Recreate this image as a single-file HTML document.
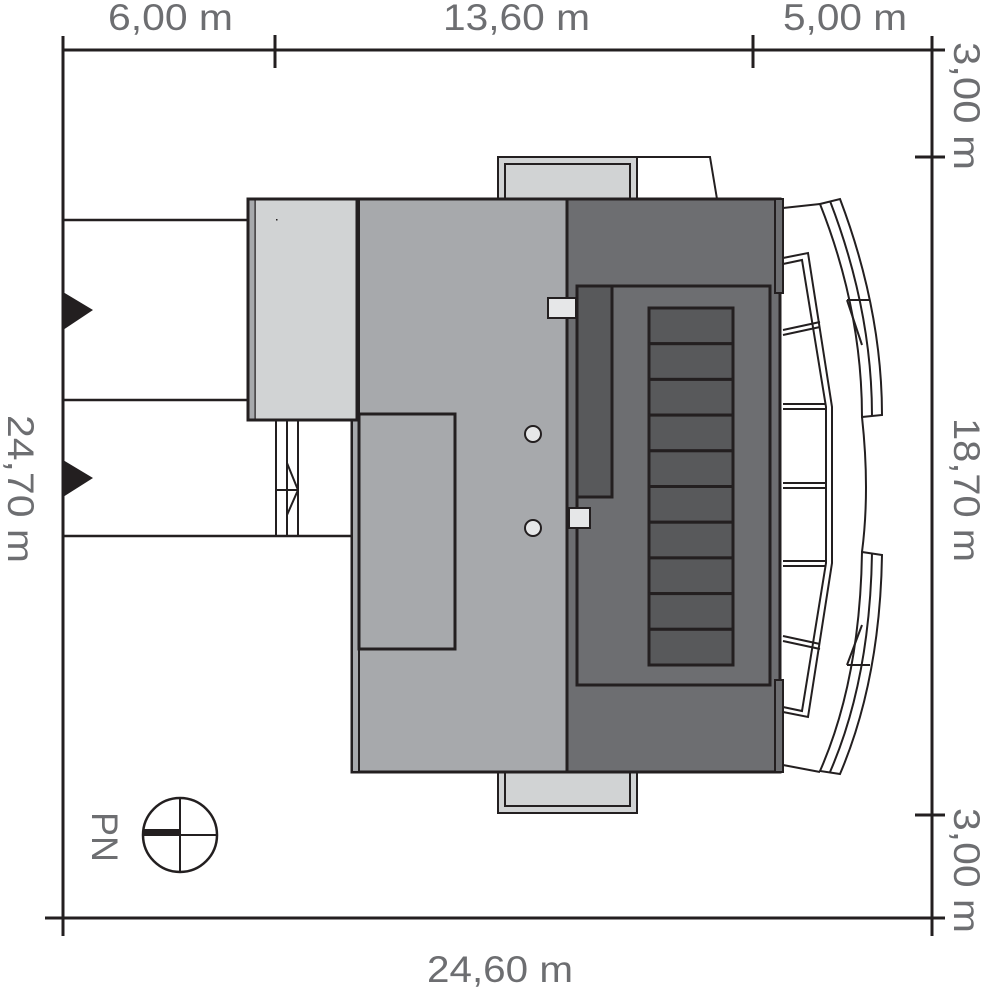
<!DOCTYPE html>
<html><head><meta charset="utf-8"><style>html,body{margin:0;padding:0;background:#fff}svg{display:block}</style></head>
<body>
<svg width="988" height="988" viewBox="0 0 988 988" xmlns="http://www.w3.org/2000/svg" font-family="Liberation Sans, sans-serif">
<rect width="988" height="988" fill="#fff"/>
<!-- dimension lines -->
<g stroke="#231f20" stroke-width="3" fill="none">
<line x1="63" y1="50" x2="945" y2="50"/>
<line x1="63" y1="36" x2="63" y2="936"/>
<line x1="45" y1="918" x2="945" y2="918"/>
<line x1="932" y1="36" x2="932" y2="936"/>
<line x1="275" y1="35" x2="275" y2="68"/>
<line x1="753" y1="35" x2="753" y2="68"/>
<line x1="915" y1="157" x2="945" y2="157"/>
<line x1="915" y1="815" x2="945" y2="815"/>
</g>
<g fill="#6d6e71" font-size="37">
<text x="108" y="30" textLength="125" lengthAdjust="spacingAndGlyphs">6,00 m</text>
<text x="443" y="30" textLength="147" lengthAdjust="spacingAndGlyphs">13,60 m</text>
<text x="783" y="30" textLength="124" lengthAdjust="spacingAndGlyphs">5,00 m</text>
<text x="427" y="982" textLength="146" lengthAdjust="spacingAndGlyphs">24,60 m</text>
<text transform="translate(8,415) rotate(90)" textLength="148" lengthAdjust="spacingAndGlyphs">24,70 m</text>
<text transform="translate(954,418) rotate(90)" textLength="144" lengthAdjust="spacingAndGlyphs">18,70 m</text>
<text transform="translate(954,42) rotate(90)" textLength="128" lengthAdjust="spacingAndGlyphs">3,00 m</text>
<text transform="translate(954,808) rotate(90)" textLength="125" lengthAdjust="spacingAndGlyphs">3,00 m</text>
<text transform="translate(92,812) rotate(90)" textLength="50" lengthAdjust="spacingAndGlyphs">PN</text>
</g>
<!-- left lines & triangles -->
<g stroke="#231f20" stroke-width="2.5" fill="none">
<line x1="63" y1="220" x2="248" y2="220"/>
<line x1="63" y1="400" x2="248" y2="400"/>
<line x1="63" y1="536" x2="352" y2="536"/>
</g>
<polygon points="63,292 93,310 63,330" fill="#231f20"/>
<polygon points="63,460 93,478 63,497" fill="#231f20"/>
<g stroke="#231f20" stroke-width="2" fill="none">
<line x1="276" y1="420" x2="276" y2="536"/>
<line x1="287" y1="420" x2="287" y2="536"/>
<line x1="298" y1="420" x2="298" y2="536"/>
<line x1="276" y1="490" x2="298" y2="490"/>
<polyline points="287,463 298,490 287,515"/>
</g>
<!-- balconies top/bottom -->
<rect x="498" y="157" width="139" height="44" fill="#d1d3d4" stroke="#231f20" stroke-width="2"/>
<rect x="505" y="164" width="125" height="37" fill="#d1d3d4" stroke="#231f20" stroke-width="2"/>
<polygon points="637,157 710,157 717,199 637,199" fill="#fff" stroke="#231f20" stroke-width="2"/>
<rect x="498" y="770" width="139" height="43" fill="#d1d3d4" stroke="#231f20" stroke-width="2"/>
<rect x="505" y="770" width="125" height="36" fill="#d1d3d4" stroke="#231f20" stroke-width="2"/>
<!-- main building -->
<rect x="352" y="199" width="215" height="573" fill="#a7a9ac" stroke="#231f20" stroke-width="3"/>
<rect x="567" y="199" width="213" height="573" fill="#6d6e71" stroke="#231f20" stroke-width="3"/>
<rect x="352" y="199" width="7" height="573" fill="#a7a9ac" stroke="#231f20" stroke-width="2"/>
<rect x="248" y="199" width="109" height="221" fill="#d1d3d4" stroke="#231f20" stroke-width="3"/>
<line x1="255" y1="200" x2="255" y2="419" stroke="#231f20" stroke-width="1.5"/>
<rect x="249.5" y="200.5" width="5" height="218" fill="#a7a9ac"/>
<rect x="276" y="219" width="1.5" height="1.5" fill="#231f20"/>
<rect x="359" y="414" width="96" height="235" fill="#a7a9ac" stroke="#231f20" stroke-width="3"/>
<!-- right strips -->
<rect x="775" y="199" width="8" height="94" fill="#6d6e71" stroke="#231f20" stroke-width="2"/>
<rect x="775" y="680" width="8" height="92" fill="#6d6e71" stroke="#231f20" stroke-width="2"/>
<!-- stair area -->
<rect x="577" y="286" width="193" height="399" fill="#6d6e71" stroke="#231f20" stroke-width="3"/>
<rect x="577" y="286" width="35" height="211" fill="#58595b" stroke="#231f20" stroke-width="3"/>
<line x1="770" y1="286" x2="770" y2="685" stroke="#231f20" stroke-width="3"/>
<g fill="#58595b" stroke="#231f20" stroke-width="3">
<rect x="649" y="308" width="84" height="35.7"/>
<rect x="649" y="343.7" width="84" height="35.7"/>
<rect x="649" y="379.4" width="84" height="35.7"/>
<rect x="649" y="415.1" width="84" height="35.7"/>
<rect x="649" y="450.8" width="84" height="35.7"/>
<rect x="649" y="486.5" width="84" height="35.7"/>
<rect x="649" y="522.2" width="84" height="35.7"/>
<rect x="649" y="557.9" width="84" height="35.7"/>
<rect x="649" y="593.6" width="84" height="35.7"/>
<rect x="649" y="629.3" width="84" height="35.7"/>
</g>
<rect x="548" y="298" width="28" height="20" fill="#e6e7e8" stroke="#231f20" stroke-width="2"/>
<rect x="569" y="508" width="21" height="20" fill="#e6e7e8" stroke="#231f20" stroke-width="2"/>
<circle cx="533" cy="434" r="8" fill="#e6e7e8" stroke="#231f20" stroke-width="2"/>
<circle cx="533" cy="528" r="8" fill="#e6e7e8" stroke="#231f20" stroke-width="2"/>
<!-- right terrace -->
<g stroke="#231f20" stroke-width="2" fill="none">
<polyline points="783,208 820,204"/>
<polyline points="783,765 820,772"/>
<path d="M840,199 Q882,310 882,415 L862,417 Q862,310 820,204 Z"/>
<path d="M830,201 Q872,310 872,416"/>
<path d="M862,552 L882,555 Q880,680 840,774 L820,771 Q860,680 862,552 Z"/>
<path d="M872,553 Q870,680 830,772"/>
<path d="M847,300 L862,345 M847,300 L870,300" />
<path d="M847,665 L862,625 M847,665 L870,665"/>
<path d="M862,417 Q870,490 862,552"/>
<polyline points="783,258 808,253 832,407 832,563 808,717 783,712"/>
<polyline points="783,264 802,260 826,407 826,563 802,711 783,707"/>
<line x1="783" y1="330" x2="820" y2="322"/>
<line x1="783" y1="335" x2="820" y2="327"/>
<line x1="783" y1="404" x2="826" y2="404"/>
<line x1="783" y1="409" x2="826" y2="409"/>
<line x1="783" y1="483" x2="826" y2="483"/>
<line x1="783" y1="488" x2="826" y2="488"/>
<line x1="783" y1="561" x2="826" y2="561"/>
<line x1="783" y1="566" x2="826" y2="566"/>
<line x1="783" y1="636" x2="820" y2="644"/>
<line x1="783" y1="641" x2="820" y2="649"/>
</g>
<!-- compass -->
<circle cx="180" cy="835" r="37" fill="none" stroke="#231f20" stroke-width="2.5"/>
<line x1="180" y1="798" x2="180" y2="872" stroke="#231f20" stroke-width="2"/>
<line x1="143" y1="835" x2="217" y2="835" stroke="#231f20" stroke-width="2"/>
<line x1="143" y1="832" x2="180" y2="832" stroke="#231f20" stroke-width="6"/>
</svg>
</body></html>
